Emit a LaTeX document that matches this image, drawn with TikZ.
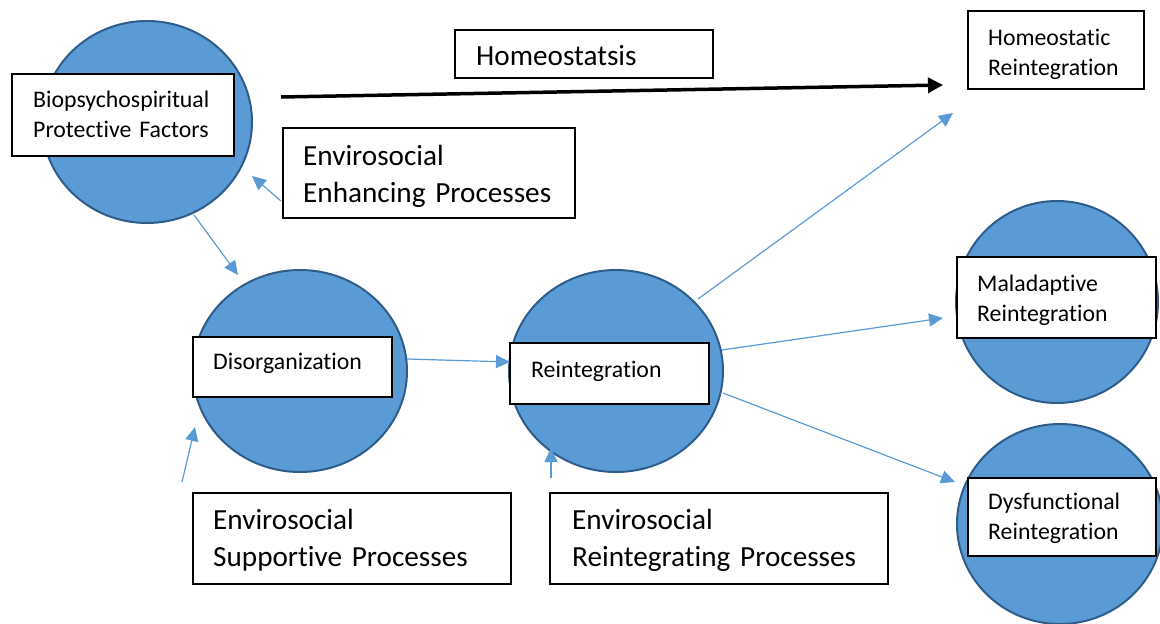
\documentclass[tikz,border=0pt]{standalone}
\usepackage{fontspec}
\setmainfont{Carlito}[Ligatures=CommonOff]
\usetikzlibrary{arrows.meta,shapes.geometric,calc}
\definecolor{cfill}{HTML}{5B9BD5}
\definecolor{cline}{HTML}{2F5D8A}
\definecolor{aline}{HTML}{5B9BD5}
\begin{document}
\begin{tikzpicture}[x=1pt,y=-1pt,
  blob/.style={ellipse, draw=cline, fill=cfill, line width=2pt, inner sep=0pt},
  lbl/.style={draw=black, fill=white, line width=1.3pt, anchor=north west, inner sep=0pt, outer sep=0pt},
  txt/.style={anchor=base west, inner sep=0pt, align=left, text width=320pt},
  small/.style={font={\fontsize{23.8}{30}\selectfont}},
  big/.style={font={\fontsize{29.2}{37.5}\selectfont}},
  blink/.style={draw=aline, line width=1.2pt, -{Triangle[length=14pt,width=13pt]}},
  klink/.style={draw=black, line width=3.5pt, -{Triangle[length=15pt,width=15pt]}}
]
\path[use as bounding box] (0,0) rectangle (1160,624);
\clip (0,0) rectangle (1160,624);
\fill[white] (0,0) rectangle (1160,624);

% circles
\node[blob, minimum width=210pt, minimum height=202pt] (c1) at (147,122) {};
\node[blob, minimum width=214pt, minimum height=202pt] (c2) at (300,371) {};
\node[blob, minimum width=214pt, minimum height=202pt] (c3) at (616,371) {};
\node[blob, minimum width=202pt, minimum height=202pt] (c4) at (1057,302) {};
\node[blob, minimum width=206pt, minimum height=200pt] (c5) at (1060,524) {};

% boxes
\node[lbl, minimum width=222pt, minimum height=82pt] (bio) at (12,74) {};
\node[lbl, minimum width=292pt, minimum height=90pt] (enh) at (283,128) {};
\node[lbl, minimum width=258pt, minimum height=48pt] (homeo) at (455,30) {};
\node[lbl, minimum width=176pt, minimum height=78pt] (homre) at (968,11) {};
\node[lbl, minimum width=199pt, minimum height=60pt] (dis) at (193,337) {};
\node[lbl, minimum width=199pt, minimum height=61pt] (rein) at (510,343) {};
\node[lbl, minimum width=318pt, minimum height=91pt] (sup) at (193,493) {};
\node[lbl, minimum width=338pt, minimum height=91pt] (reint) at (550,493) {};
\node[lbl, minimum width=199pt, minimum height=81pt] (mal) at (957,257) {};
\node[lbl, minimum width=188pt, minimum height=78pt] (dys) at (968,478) {};

% texts (first-line baselines)
\node[txt, small] (tbio) at ($(bio.north west)+(21,33)$) {Biopsychospiritual\\Protective~Factors};
\node[txt, big] (tenh) at ($(enh.north west)+(20,37)$) {Envirosocial\\Enhancing~Processes};
\node[txt, big] (thomeo) at ($(homeo.north west)+(21,35)$) {Homeostatsis};
\node[txt, small] (thomre) at ($(homre.north west)+(20,34)$) {Homeostatic\\Reintegration};
\node[txt, small] (tdis) at ($(dis.north west)+(20,32)$) {Disorganization};
\node[txt, small] (trein) at ($(rein.north west)+(21,34)$) {Reintegration};
\node[txt, big] (tsup) at ($(sup.north west)+(20,36)$) {Envirosocial\\Supportive~Processes};
\node[txt, big] (treint) at ($(reint.north west)+(22,36)$) {Envirosocial\\Reintegrating~Processes};
\node[txt, small] (tmal) at ($(mal.north west)+(20,34)$) {Maladaptive\\Reintegration};
\node[txt, small] (tdys) at ($(dys.north west)+(20,31)$) {Dysfunctional\\Reintegration};

% connectors
\draw[klink] ($(c1.center)+(134,-25)$) -- ($(homre.north west)+(-25,74)$);
\draw[blink] ($(enh.north west)+(-2,73)$) -- ($(c1.center)+(105,54)$);
\draw[blink] ($(c1.center)+(47,93)$) -- ($(c2.center)+(-62,-96)$);
\draw[blink] ($(sup.north west)+(-11,-11)$) -- ($(c2.center)+(-105,56)$);
\draw[blink] ($(c2.center)+(107,-12)$) -- ($(rein.north west)+(0,19)$);
\draw[blink] ($(reint.north west)+(1,-15)$) -- ($(c3.center)+(-65,77)$);
\draw[blink] ($(c3.center)+(82,-72)$) -- ($(homre.north west)+(-15,102)$);
\draw[blink] ($(c3.center)+(106,-21)$) -- ($(mal.north west)+(-14,61)$);
\draw[blink] ($(c3.center)+(107,22)$) -- ($(dys.north west)+(-13,4)$);
\end{tikzpicture}
\end{document}
